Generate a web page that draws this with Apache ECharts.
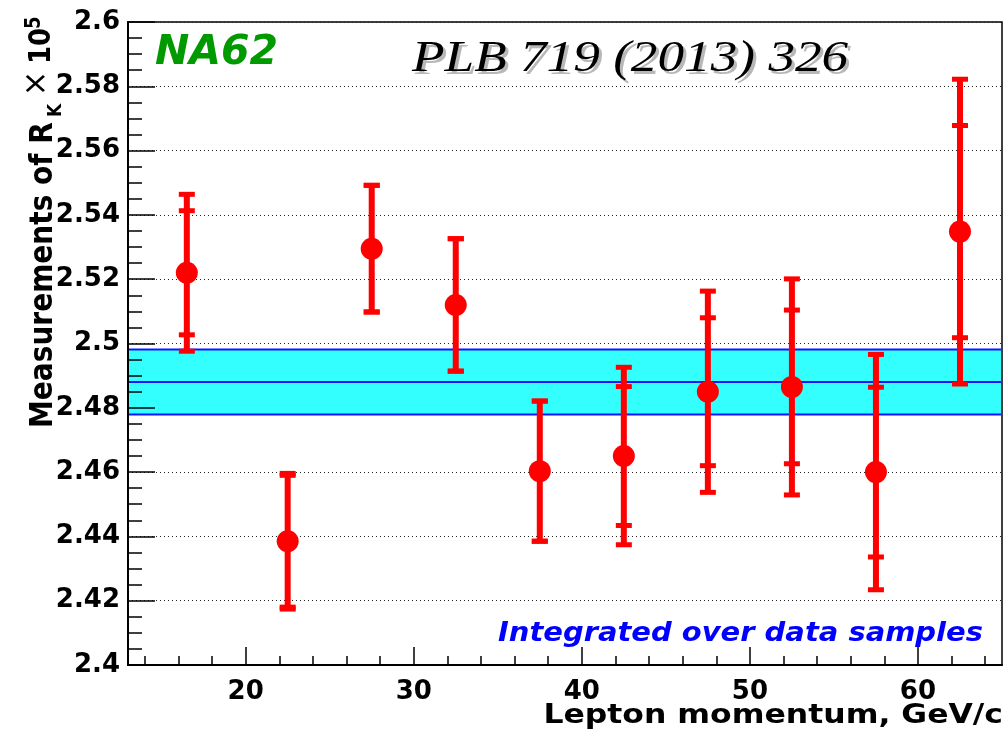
<!DOCTYPE html>
<html>
<head>
<meta charset="utf-8">
<script src="https://cdn.jsdelivr.net/npm/echarts@6/dist/echarts.min.js"></script>
<style>
html,body{margin:0;padding:0;background:#fff;}
#chart{width:1006px;height:736px;}
</style>
</head>
<body>
<div id="chart"></div>
<script>
// ---- data ----
const momentum = [16.5, 22.5, 27.5, 32.5, 37.5, 42.5, 47.5, 52.5, 57.5, 62.5];
const rkValue  = [2.522, 2.4385, 2.5295, 2.512, 2.4603, 2.465, 2.485, 2.4865, 2.460, 2.5348];
const statErr  = [0.0193, 0.0205, 0.0197, 0.0206, 0.0218, 0.0216, 0.0230, 0.0239, 0.0264, 0.0330];
const totalErr = [0.0244, 0.0211, 0.0197, 0.0206, 0.0218, 0.0276, 0.0313, 0.0336, 0.0366, 0.0474];
const bandCenter = [2.488];
const bandHalfWidth = [0.0101];
const xMajorTicks = [20, 30, 40, 50, 60];
const xMinorTicks = [14, 16, 18, 22, 24, 26, 28, 32, 34, 36, 38, 42, 44, 46, 48, 52, 54, 56, 58, 62, 64];
const xRange = [13, 65];
const yRange = [2.4, 2.6];
const yStep = 0.02;

const FONT = '"DejaVu Sans", sans-serif';
const RED = '#ff0000';

const errData = momentum.map((m, i) => [m, rkValue[i], statErr[i], totalErr[i]]);
const pointData = momentum.map((m, i) => [m, rkValue[i]]);
const bandData = bandCenter.map((c, i) => [xRange[0], c, bandHalfWidth[i]]);

const chart = echarts.init(document.getElementById('chart'), null, {renderer: 'canvas'});

function renderBand(params, api) {
  const cs = params.coordSys;
  const c = api.value(1), h = api.value(2);
  const yTop = api.coord([xRange[0], c + h])[1];
  const yMid = api.coord([xRange[0], c])[1];
  const yBot = api.coord([xRange[0], c - h])[1];
  const x1 = cs.x + 1, x2 = cs.x + cs.width - 1;
  const ls = {stroke: '#1414ff', lineWidth: 2};
  return {type: 'group', children: [
    {type: 'rect', shape: {x: x1, y: yTop, width: x2 - x1, height: yBot - yTop}, style: {fill: '#33ffff'}},
    {type: 'line', shape: {x1: x1, y1: yTop, x2: x2, y2: yTop}, style: ls},
    {type: 'line', shape: {x1: x1, y1: yMid, x2: x2, y2: yMid}, style: ls},
    {type: 'line', shape: {x1: x1, y1: yBot, x2: x2, y2: yBot}, style: ls}
  ]};
}

function renderErr(params, api) {
  const x = api.value(0), y = api.value(1), s = api.value(2), t = api.value(3);
  const pT = api.coord([x, y + t]), pB = api.coord([x, y - t]);
  const sT = api.coord([x, y + s]), sB = api.coord([x, y - s]);
  const cw = 16, ch = 5;
  const cap = (p) => ({type: 'rect', shape: {x: p[0] - cw / 2, y: p[1] - ch / 2, width: cw, height: ch}, style: {fill: RED}});
  return {type: 'group', children: [
    {type: 'rect', shape: {x: pT[0] - 3, y: pT[1], width: 6, height: pB[1] - pT[1]}, style: {fill: RED}},
    cap(pT), cap(pB), cap(sT), cap(sB)
  ]};
}

const labelStyle = {fontFamily: FONT, fontWeight: 'bold', fontSize: 26, color: '#000'};
const serifFont = 'italic normal 44px "Liberation Serif", "Times New Roman", serif';

const option = {
  animation: false,
  backgroundColor: '#fff',
  grid: {left: 128, top: 22, right: 4, bottom: 71, show: true, borderColor: '#000', borderWidth: 1.5, backgroundColor: 'transparent'},
  xAxis: [
    {
      type: 'value', min: xRange[0], max: xRange[1], position: 'bottom', z: 10,
      axisLine: {show: true, onZero: false, lineStyle: {color: '#000', width: 2}},
      axisTick: {show: true, inside: true, length: 18, customValues: xMajorTicks, lineStyle: {color: '#000', width: 1.5}},
      axisLabel: Object.assign({show: true, margin: 14, customValues: xMajorTicks}, labelStyle),
      splitLine: {show: false}
    },
    {
      type: 'value', min: xRange[0], max: xRange[1], position: 'bottom', z: 10,
      axisLine: {show: false, onZero: false},
      axisTick: {show: true, inside: true, length: 9, customValues: xMinorTicks, lineStyle: {color: '#000', width: 1.5}},
      axisLabel: {show: false},
      splitLine: {show: false}
    }
  ],
  yAxis: [
    {
      type: 'value', min: yRange[0], max: yRange[1], interval: yStep, position: 'left', z: 0,
      axisLine: {show: false}, axisTick: {show: false}, axisLabel: {show: false},
      splitLine: {show: true, lineStyle: {color: '#222', width: 1, type: [1, 3]}}
    },
    {
      type: 'value', min: yRange[0], max: yRange[1], interval: yStep, position: 'left', z: 10,
      axisLine: {show: true, onZero: false, lineStyle: {color: '#000', width: 2}},
      axisTick: {show: true, inside: true, length: 27, lineStyle: {color: '#000', width: 1.5}},
      minorTick: {show: true, splitNumber: 4, length: 14, lineStyle: {color: '#000', width: 1.5}},
      axisLabel: Object.assign({show: true, margin: 8, formatter: (v) => String(parseFloat(v.toFixed(3)))}, labelStyle),
      splitLine: {show: false}
    }
  ],
  series: [
    {type: 'custom', xAxisIndex: 0, yAxisIndex: 1, data: bandData, renderItem: renderBand, z: 2, silent: true, encode: {x: 0, y: 1}},
    {type: 'custom', xAxisIndex: 0, yAxisIndex: 1, data: errData, renderItem: renderErr, z: 3, silent: true, encode: {x: 0, y: 1}},
    {type: 'scatter', xAxisIndex: 0, yAxisIndex: 1, data: pointData, symbol: 'circle', symbolSize: 22, itemStyle: {color: RED, opacity: 1}, z: 4, silent: true}
  ],
  graphic: [
    {type: 'text', x: 155, y: 53, z: 20, style: {text: 'NA62', fontFamily: FONT, fontWeight: 'bold', fontStyle: 'italic', fontSize: 41, fill: '#009a00', align: 'left', verticalAlign: 'middle'}},
    {type: 'text', x: 415, y: 62, scaleX: 1.21, z: 19, style: {text: 'PLB 719 (2013) 326', font: serifFont, fill: '#b8b8b8', align: 'left', verticalAlign: 'middle'}},
    {type: 'text', x: 412, y: 59, scaleX: 1.21, z: 20, style: {text: 'PLB 719 (2013) 326', font: serifFont, fill: '#000', align: 'left', verticalAlign: 'middle'}},
    {type: 'text', x: 498, y: 634, scaleX: 1.073, z: 20, style: {text: 'Integrated over data samples', fontFamily: FONT, fontWeight: 'bold', fontStyle: 'italic', fontSize: 27, fill: '#0000ff', align: 'left', verticalAlign: 'middle'}},
    {type: 'text', x: 1003, y: 716, scaleX: 1.21, z: 20, style: {text: 'Lepton momentum, GeV/c', fontFamily: FONT, fontWeight: 'bold', fontSize: 26, fill: '#000', align: 'right', verticalAlign: 'middle'}},
    {type: 'group', x: 53, y: 428, rotation: Math.PI / 2, scaleY: 1.13, z: 20, children: [
      {type: 'text', x: 0, y: -8.3, style: {text: 'Measurements of R', fontFamily: FONT, fontWeight: 'bold', fontSize: 28, fill: '#000', align: 'left', verticalAlign: 'middle'}},
      {type: 'text', x: 311, y: 2.8, style: {text: 'K', fontFamily: FONT, fontWeight: 'bold', fontSize: 17, fill: '#000', align: 'left', verticalAlign: 'middle'}},
      {type: 'text', x: 332, y: -14, style: {text: '\u00d7', fontFamily: FONT, fontWeight: 'normal', fontSize: 30, fill: '#000', align: 'left', verticalAlign: 'middle'}},
      {type: 'text', x: 364, y: -9.7, style: {text: '10', fontFamily: FONT, fontWeight: 'bold', fontSize: 26, fill: '#000', align: 'left', verticalAlign: 'middle'}},
      {type: 'text', x: 399, y: -16.6, style: {text: '5', fontFamily: FONT, fontWeight: 'bold', fontSize: 18, fill: '#000', align: 'left', verticalAlign: 'middle'}}
    ]}
  ]
};
chart.setOption(option);
</script>
</body>
</html>
